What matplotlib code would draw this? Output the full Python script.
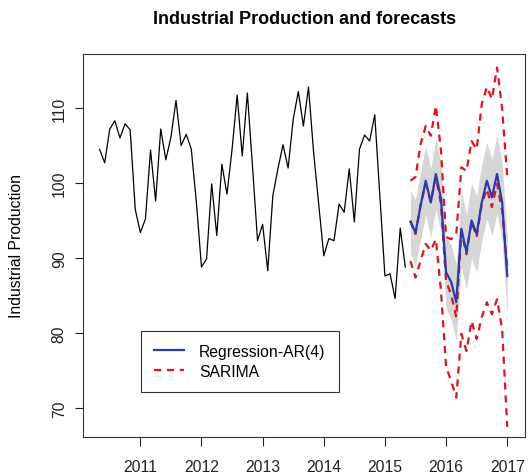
import numpy as np
import matplotlib
matplotlib.use('Agg')
import matplotlib.pyplot as plt
from matplotlib.lines import Line2D

plt.rcParams['font.family'] = ['Liberation Sans', 'DejaVu Sans']

# monthly industrial production, May 2010 - May 2015
ip = [104.5, 102.7, 107.2, 108.3, 106.0, 107.9, 107.1, 96.5, 93.4, 95.2,
      104.4, 97.6, 107.2, 103.1, 106.1, 111.0, 105.0, 106.5, 104.5, 97.4,
      88.8, 89.9, 99.9, 93.0, 102.5, 98.5, 104.5, 111.7, 103.6, 112.0,
      102.3, 92.3, 94.5, 88.3, 98.3, 101.9, 105.1, 102.0, 108.5, 112.2,
      107.6, 112.8, 104.1, 97.2, 90.3, 92.6, 92.3, 97.2, 96.1, 101.9,
      94.8, 104.5, 106.4, 105.6, 109.1, 98.3, 87.6, 87.9, 84.6, 94.0, 88.8]

# Regression-AR(4) forecast, Jun 2015 - Jan 2017, with its interval
reg_fc = [94.8, 93.4, 97.0, 100.3, 97.4, 101.2, 97.9, 88.1, 86.8, 84.1,
          93.9, 90.8, 95.0, 93.2, 97.4, 100.3, 98.1, 101.2, 97.4, 87.6]
reg_hi = [99.0, 97.8, 101.5, 104.9, 102.0, 105.9, 102.6, 92.9, 91.7, 89.2,
          98.9, 95.8, 100.0, 98.3, 102.5, 105.4, 103.2, 106.4, 102.6, 92.8]
reg_lo = [90.6, 89.0, 92.5, 95.7, 92.8, 96.5, 93.2, 83.3, 81.8, 79.0,
          88.9, 85.8, 90.0, 88.1, 92.3, 95.2, 93.0, 96.0, 92.2, 82.4]

# SARIMA forecast and bounds
sar_fc = [95.0, 93.2, 97.1, 99.9, 97.5, 100.8, 97.2, 86.9, 85.1, 82.1,
          93.6, 90.5, 94.9, 92.8, 97.2, 99.2, 96.8, 99.9, 96.3, 88.8]
sar_hi = [100.3, 100.8, 105.2, 107.6, 106.3, 110.3, 104.3, 92.8, 92.5, 93.2,
          102.1, 101.6, 105.6, 104.5, 110.5, 112.8, 111.2, 115.4, 109.9, 100.8]
sar_lo = [89.6, 87.4, 89.6, 91.9, 91.0, 92.5, 85.6, 75.5, 73.6, 71.4,
          79.9, 77.6, 81.6, 79.2, 82.1, 84.1, 82.5, 84.5, 80.5, 67.5]

years = [2011, 2012, 2013, 2014, 2015, 2016, 2017]
yticks = [70, 80, 90, 100, 110]

t_ip = 2010 + (4 + np.arange(len(ip))) / 12.0
t_fc = 2015 + (5 + np.arange(len(reg_fc))) / 12.0

blue = '#2a3aac'
red = '#e3121f'
dash = (0, (3.2, 2.6))

fig = plt.figure(figsize=(5.30, 4.77), dpi=100)
ax = fig.add_axes([0.1575, 0.0811, 0.8330, 0.8036])

ax.plot(t_ip, ip, color='black', lw=0.9)
ax.fill_between(t_fc, reg_lo, reg_hi, color='#d6d6d6', lw=0)
for s in (sar_hi, sar_lo, sar_fc):
    ax.plot(t_fc, s, color=red, lw=1.6, ls=dash)
ax.plot(t_fc, reg_fc, color=blue, lw=1.6)

ax.set_xlim(2010.07, 2017.29)
ax.set_ylim(66.1, 117.2)
ax.set_xticks(years)
ax.set_yticks(yticks)
ax.set_yticklabels([str(v) for v in yticks], rotation=90, va='center')
ax.tick_params(axis='x', length=6.5, width=0.8, pad=9, labelsize=11.3, colors='#222222')
ax.tick_params(axis='y', length=6.0, width=0.8, pad=6, labelsize=11.3, colors='#222222')
for sp in ax.spines.values():
    sp.set_linewidth(0.8)
    sp.set_color('#333333')

fig.text(0.5 * (0.1575 + 0.9906), 1 - 19 / 477, 'Industrial Production and forecasts',
         ha='center', va='center', fontsize=13, fontweight='bold')
fig.text(17 / 530, 1 - 246 / 477, 'Industrial Production', rotation=90,
         ha='center', va='center', fontsize=11.3)

handles = [Line2D([], [], color=blue, lw=1.6),
           Line2D([], [], color=red, lw=1.6, ls=dash)]
leg = ax.legend(handles, ['Regression-AR(4)', 'SARIMA'],
                loc='lower left', bbox_to_anchor=(141 / 530, 1 - 393 / 477),
                bbox_transform=fig.transFigure, fontsize=11.3,
                fancybox=False, framealpha=1, edgecolor='#333333',
                handlelength=1.9, handletextpad=0.95, borderpad=0.85,
                labelspacing=0.3, borderaxespad=0)
leg.get_frame().set_linewidth(0.8)

fig.savefig('out.png', dpi=100)
